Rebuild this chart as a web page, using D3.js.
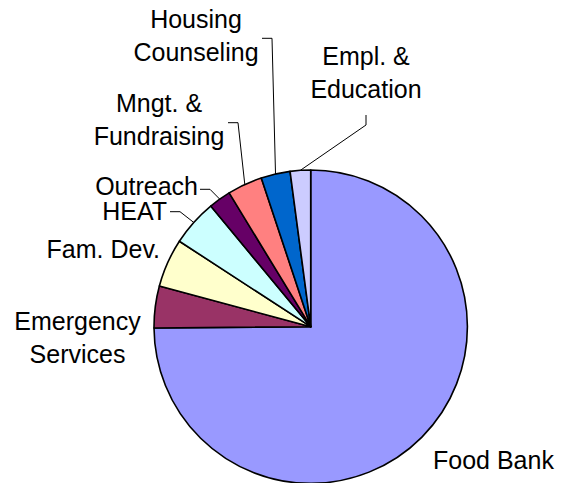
<!DOCTYPE html>
<html>
<head>
<meta charset="utf-8">
<script src="https://cdn.jsdelivr.net/npm/d3@7"></script>
<style>
  html, body { margin: 0; padding: 0; background: #fff; }
  svg { display: block; }
</style>
</head>
<body>
<div id="chart"></div>
<script>
// slices, clockwise from 12 o'clock (percent of budget)
const categories = ["Food Bank", "Emergency Services", "Fam. Dev.", "HEAT", "Outreach",
                    "Mngt. & Fundraising", "Housing Counseling", "Empl. & Education"];
const values = [74.8, 4.3, 5.0, 4.8, 2.3, 3.6, 3.0, 2.1];
const colors = ["#9999FF", "#993366", "#FFFFCC", "#CCFFFF", "#660066",
                "#FF8080", "#0066CC", "#CCCCFF"];
const labelLines = [["Food Bank"], ["Emergency", "Services"], ["Fam. Dev."], ["HEAT"], ["Outreach"],
                    ["Mngt. &", "Fundraising"], ["Housing", "Counseling"], ["Empl. &", "Education"]];

const width = 565, height = 483;
const cx = 310.7, cy = 326.7, radius = 156.7;
const lineH = 33;

// label placement (excel-ish), anchor + first baseline; leader = knee point, end point
const layout = [
  {x: 433, y: 469, anchor: "start"},
  {x: 77.5, y: 330, anchor: "middle"},
  {x: 160, y: 258, anchor: "end"},
  {x: 167, y: 220, anchor: "end", knee: [180, 211.7], end: [170, 211.7]},
  {x: 198, y: 195, anchor: "end", knee: [210, 189.3], end: [200, 189.3]},
  {x: 159, y: 112, anchor: "middle", knee: [238, 122.7], end: [228, 122.7]},
  {x: 196, y: 28, anchor: "middle", knee: [272, 38.3], end: [262, 38.3]},
  {x: 366, y: 65, anchor: "middle", knee: [366, 125], end: [366, 115]}
];

const data = categories.map((c, i) => ({name: c, value: values[i], i}));

const pie = d3.pie().value(d => d.value).sort(null).startAngle(0).endAngle(2 * Math.PI);
const arc = d3.arc().innerRadius(0).outerRadius(radius);
const arcs = pie(data);

const svg = d3.select("#chart").append("svg")
  .attr("width", width)
  .attr("height", height)
  .attr("font-family", "'Liberation Sans', Arial, sans-serif");

const g = svg.append("g").attr("transform", `translate(${cx},${cy})`);

g.selectAll("path.slice")
  .data(arcs)
  .join("path")
  .attr("class", "slice")
  .attr("d", arc)
  .attr("fill", d => colors[d.data.i])
  .attr("stroke", "#000")
  .attr("stroke-width", 1.6)
  .attr("stroke-linejoin", "round");

// leader lines from slice edge at mid angle
arcs.forEach(d => {
  const L = layout[d.data.i];
  if (!L.knee) return;
  const mid = (d.startAngle + d.endAngle) / 2;
  const px = cx + radius * Math.sin(mid), py = cy - radius * Math.cos(mid);
  svg.append("path")
    .attr("d", d3.line()([[px, py], L.knee, L.end]))
    .attr("fill", "none")
    .attr("stroke", "#000")
    .attr("stroke-width", 1);
});

const labels = svg.append("g")
  .attr("font-size", 25)
  .attr("fill", "#000");

data.forEach(d => {
  const L = layout[d.i];
  const t = labels.append("text")
    .attr("text-anchor", L.anchor)
    .attr("x", L.x)
    .attr("y", L.y);
  labelLines[d.i].forEach((s, k) => {
    t.append("tspan").attr("x", L.x).attr("y", L.y + k * lineH).text(s);
  });
});
</script>
</body>
</html>
